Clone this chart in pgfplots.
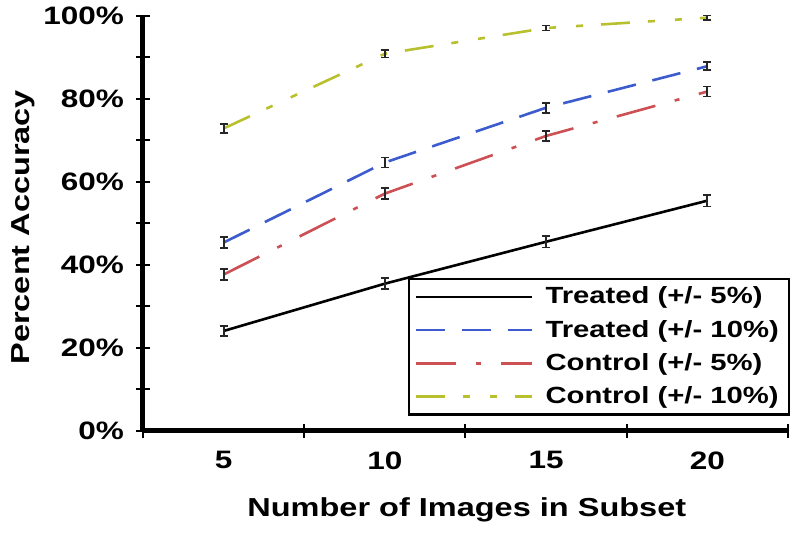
\documentclass[border=0pt]{standalone}
\usepackage{fontspec}
\setmainfont{Liberation Sans}[FakeStretch=1.25]
\usepackage{pgfplots}
\pgfplotsset{compat=1.18}
\definecolor{cblue}{RGB}{60,92,205}
\definecolor{cred}{RGB}{205,80,85}
\definecolor{cgreen}{RGB}{185,192,45}
\pgfplotsset{
  eb/.style={error bars/.cd, y dir=both, y explicit,
    error bar style={black!85, line width=0.9pt, solid},
    error mark options={black!85, rotate=90, mark size=2pt, line width=0.9pt, solid}},
}
\begin{document}
\begin{tikzpicture}
\begin{axis}[
  name=ax,
  scale only axis, width=322.5pt, height=207.5pt,
  xmin=2.5, xmax=22.5, ymin=0, ymax=100,
  axis x line*=bottom, axis y line*=left,
  axis line style={line width=2.5pt, -},
  xtick={5,10,15,20}, xticklabels={5,10,15,20},
  minor xtick={2.5,7.5,12.5,17.5,22.5},
  ytick={0,20,40,60,80,100}, yticklabels={0\%,20\%,40\%,60\%,80\%,100\%},
  minor ytick={0,10,...,100},
  tick align=center, major tick length=0pt, minor tick length=7pt,
  every tick/.style={black, line width=1pt},
  tick label style={font=\bfseries\fontsize{12.6}{14}\selectfont},
  xticklabel style={anchor=north, yshift=-7pt},
  yticklabel style={anchor=east, xshift=-6pt},
  xlabel={Number of Images in Subset},
  ylabel={Percent Accuracy},
  label style={font=\bfseries\fontsize{13}{15}\selectfont},
  xlabel style={at={(axis description cs:0.502,0)}, anchor=center, yshift=-39.5pt},
  ylabel style={at={(axis description cs:-0.186,0.49)}, anchor=center},
  clip=false,
  legend style={at={(1,0)}, anchor=south east, xshift=1pt, yshift=7.5pt,
    draw=black, line width=1.2pt,
    font=\bfseries\fontsize{11.7}{13}\selectfont,
    cells={anchor=west}, row sep=2.6pt, inner xsep=3pt, inner ysep=2pt},
  legend image code/.code={\draw[#1] (0pt,0pt) -- (58pt,0pt); \path (62pt,0pt);},
]
\addplot[black, line width=1.3pt, solid, eb] coordinates {
  (5,24.0) +- (0,1.2) (10,35.4) +- (0,1.3) (15,45.5) +- (0,1.4) (20,55.4) +- (0,1.4)};
\addlegendentry{Treated (+/- 5\%)}
\addplot[cblue, line width=1.3pt, dash pattern=on 14.5pt off 8.5pt, eb] coordinates {
  (5,45.3) +- (0,1.3) (10,64.6) +- (0,1.2) (15,77.8) +- (0,1.2) (20,87.8) +- (0,1.0)};
\addlegendentry{Treated (+/- 10\%)}
\addplot[cred, line width=1.3pt, dash pattern=on 20pt off 10pt on 2.5pt off 10pt, eb] coordinates {
  (5,37.6) +- (0,1.3) (10,57.1) +- (0,1.3) (15,71.0) +- (0,1.2) (20,81.7) +- (0,1.2)};
\addlegendentry{Control (+/- 5\%)}
\addplot[cgreen, line width=1.3pt, dash pattern=on 14.5pt off 9pt on 3.5pt off 10pt on 3.5pt off 9pt, eb] coordinates {
  (5,72.8) +- (0,1.1) (10,90.8) +- (0,0.9) (15,97.0) +- (0,0.6) (20,99.5) +- (0,0.5)};
\addlegendentry{Control (+/- 10\%)}
\end{axis}
\path (ax.south west) ++(-71.5pt,-52.5pt) rectangle ++(400pt,266.5pt);
\end{tikzpicture}
\end{document}
